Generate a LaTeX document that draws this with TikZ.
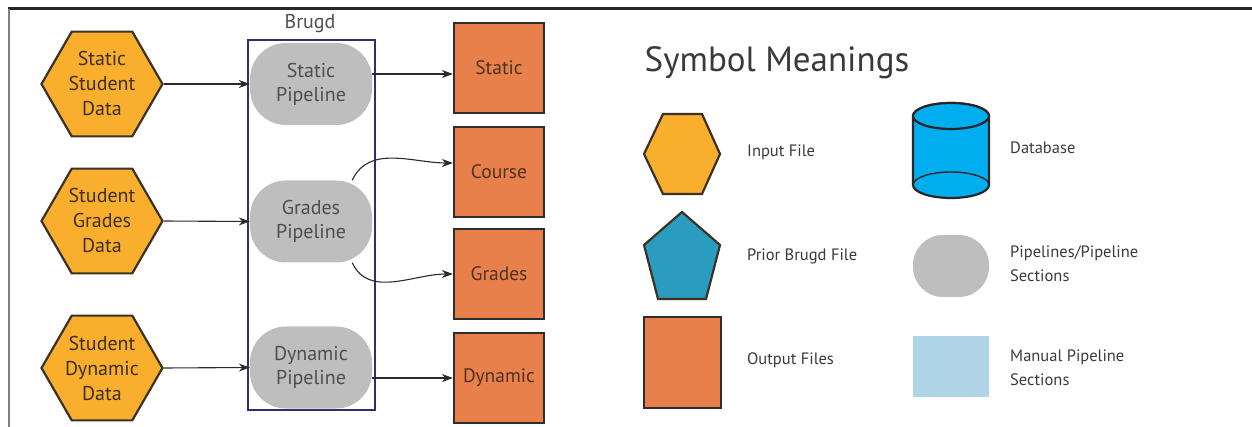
\documentclass[tikz,border=0pt]{standalone}
\usepackage{fontspec}
\setmainfont{PT Sans}
\usetikzlibrary{shapes.geometric,arrows.meta}
\definecolor{hexfill}{HTML}{F9AE2E}
\definecolor{hexline}{HTML}{3A3222}
\definecolor{hextxt}{HTML}{3C2F14}
\definecolor{pipegrey}{HTML}{BEBEBE}
\definecolor{pipetxt}{HTML}{4E4E4E}
\definecolor{outfill}{HTML}{E8804C}
\definecolor{outline}{HTML}{2E2E2E}
\definecolor{outtxt}{HTML}{4E3222}
\definecolor{pentfill}{HTML}{2A9CC0}
\definecolor{cylfill}{HTML}{00AEEF}
\definecolor{manual}{HTML}{AED4E6}
\definecolor{brugdc}{HTML}{2F2F6F}
\definecolor{legtxt}{HTML}{3A3A3A}
\definecolor{connc}{HTML}{2A2A2A}
\begin{document}
\begin{tikzpicture}[x=1pt,y=-1pt,
  hexnode/.style={regular polygon, regular polygon sides=6, minimum size=121pt, inner sep=0pt,
    fill=hexfill, draw=hexline, line width=2.2pt},
  hextext/.style={text=hextxt, font=\fontsize{20}{25}\selectfont, align=center, inner sep=0pt},
  pipe/.style={rectangle, rounded corners=36pt, minimum width=122pt, minimum height=82pt,
    fill=pipegrey, text=pipetxt, font=\fontsize{20}{24}\selectfont, align=center, inner sep=0pt},
  outbox/.style={rectangle, minimum size=90pt, fill=outfill, draw=outline, line width=2.2pt,
    text=outtxt, font=\fontsize{19.5}{24}\selectfont, inner sep=0pt},
  conn/.style={-{Stealth[length=11pt,width=8pt]}, line width=1.1pt, draw=connc},
  legtext/.style={anchor=west, text=legtxt, font=\fontsize{16.5}{24}\selectfont, align=left, inner sep=0pt},
  legline/.style={draw=hexline, line width=2.2pt}
]
\useasboundingbox (0,0) rectangle (1252,427);
% frame
\draw[line width=3pt, black!85] (8,9) -- (1252,9);
\draw[line width=1.5pt, gray] (9,9) -- (9,427);

% input hexagons
\node[hexnode, label={[hextext]center:Static\\Student\\Data}] (in1) at (102,84) {};
\node[hexnode, label={[hextext]center:Student\\Grades\\Data}] (in2) at (102,221) {};
\node[hexnode, label={[hextext]center:Student\\Dynamic\\Data}] (in3) at (102,368) {};

% pipelines
\node[pipe] (p1) at (311,84) {Static\\Pipeline};
\node[pipe] (p2) at (311,221.5) {Grades\\Pipeline};
\node[pipe] (p3) at (311,367.5) {Dynamic\\Pipeline};

% Brugd box
\node[draw=brugdc, line width=2pt, minimum width=127pt, minimum height=370pt, inner sep=0pt] (brugd) at (311,225) {};
\node[text=pipetxt, font=\fontsize{20}{24}\selectfont, inner sep=0pt] (brugdlabel) at (310,24) {Brugd};

% outputs
\node[outbox] (o1) at (499,68) {Static};
\node[outbox] (o2) at (499,172) {Course};
\node[outbox] (o3) at (499,274) {Grades};
\node[outbox] (o4) at (499,378) {Dynamic};

% connectors
\draw[conn] (in1.east) -- (p1.west);
\draw[conn] (in2.east) -- (p2.west);
\draw[conn] (in3.east) -- (p3.west);
\path ([yshift=-6pt]o1.west) coordinate (t1);
\draw[conn] (p1.east |- t1) -- (t1);
\draw[conn] (p3.east |- o4.west) -- (o4.west);
\draw[conn] (p2.45) to[out=65,in=180] ([yshift=9pt]o2.west);
\draw[conn] (p2.-45) to[out=-65,in=180] (o3.west);

% legend
\node[text=legtxt, font=\fontsize{35}{40}\selectfont, inner sep=0pt] (title) at (777,63) {Symbol Meanings};

\draw[legline, fill=hexfill] (644,154) -- (663,114) -- (702,114) -- (720,154) -- (702,194) -- (663,194) -- cycle;
\node[legtext] (l1) at (747,152) {Input File};

\draw[legline, fill=pentfill] (682,212) -- (720,245) -- (706,299) -- (658,299) -- (644,245) -- cycle;
\node[legtext] (l2) at (747,256) {Prior Brugd File};

\draw[legline, draw=outline, fill=outfill] (644,317) rectangle (721,408);
\node[legtext] (l3) at (747,360) {Output Files};

% cylinder
\draw[legline, draw=black!85, fill=cylfill] (913,116) -- (913,185) arc[start angle=180, end angle=360, x radius=38, y radius=-13] -- (989,116) arc[start angle=0, end angle=180, x radius=38, y radius=-13] -- cycle;
\draw[legline, draw=black!85, fill=cylfill] (951,116) ellipse[x radius=38, y radius=13];
\draw[legline, draw=black!85, line width=1.4pt] (913,185) arc[start angle=180, end angle=0, x radius=38, y radius=-13];
\node[legtext] (l4) at (1010,148) {Database};

\fill[pipegrey, rounded corners=30pt] (913,235) rectangle (989,297);
\node[legtext] (l5) at (1010,264) {Pipelines/Pipeline\\Sections};

\fill[manual] (913,336) rectangle (989,397);
\node[legtext] (l6) at (1010,368) {Manual Pipeline\\Sections};
\end{tikzpicture}
\end{document}
